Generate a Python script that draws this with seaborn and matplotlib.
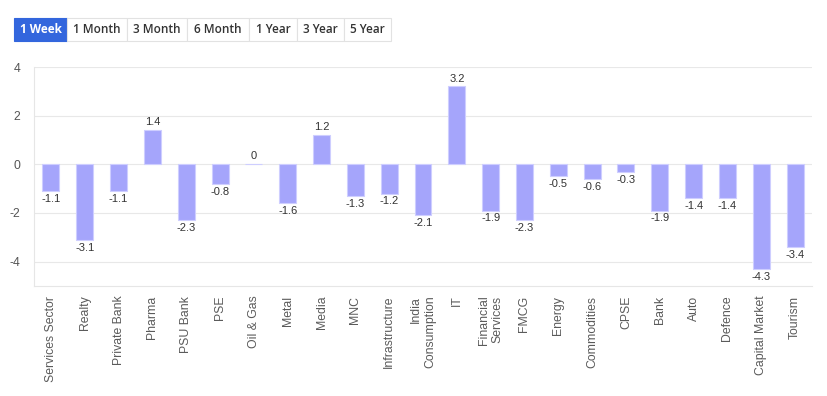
import pandas as pd
import seaborn as sns
import matplotlib.pyplot as plt
from matplotlib.patches import Rectangle

# Sector returns for the selected period
sectors = ['Services Sector', 'Realty', 'Private Bank', 'Pharma', 'PSU Bank', 'PSE',
           'Oil & Gas', 'Metal', 'Media', 'MNC', 'Infrastructure', 'India\nConsumption',
           'IT', 'Financial\nServices', 'FMCG', 'Energy', 'Commodities', 'CPSE', 'Bank',
           'Auto', 'Defence', 'Capital Market', 'Tourism']
returns = [-1.1, -3.1, -1.1, 1.4, -2.3, -0.8, 0, -1.6, 1.2, -1.3, -1.2, -2.1,
           3.2, -1.9, -2.3, -0.5, -0.6, -0.3, -1.9, -1.4, -1.4, -4.3, -3.4]
periods = ['1 Week', '1 Month', '3 Month', '6 Month', '1 Year', '3 Year', '5 Year']
y_ticks = [4, 2, 0, -2, -4]

df = pd.DataFrame({'sector': sectors, 'ret': returns})

sns.set_theme(style='white')
plt.rcParams['font.family'] = ['Liberation Sans', 'DejaVu Sans']

fig = plt.figure(figsize=(8.27, 3.96), dpi=100)
ax = fig.add_axes([34 / 827, 1 - 286 / 396, (812 - 34) / 827, (286 - 67) / 396])

bar_color = '#a5a5fb'
sns.barplot(data=df, x='sector', y='ret', color=bar_color, saturation=1,
            width=0.5, edgecolor='#ceceff', linewidth=0.8, ax=ax, zorder=3)

for i, v in enumerate(returns):
    if v >= 0:
        ax.text(i, v + 0.12, f'{v:g}', ha='center', va='bottom', fontsize=8, color='#333333')
    else:
        ax.text(i, v - 0.12, f'{v:g}', ha='center', va='top', fontsize=8, color='#333333')

ax.set_ylim(-5, 4)
ax.set_xlim(-0.5, len(sectors) - 0.5)
ax.set_yticks(y_ticks)
ax.set_yticklabels([str(t) for t in y_ticks], fontsize=8.8, color='#555555')
ax.set_xticks(range(len(sectors)))
ax.set_xticklabels(sectors, rotation=90, fontsize=8.8, color='#5a5a5a',
                   ha='center', va='top', multialignment='right')
ax.set_xlabel('')
ax.set_ylabel('')
ax.grid(axis='y', color='#e8e8e8', linewidth=0.8, zorder=0)
for s in ['top', 'right']:
    ax.spines[s].set_visible(False)
for s in ['left', 'bottom']:
    ax.spines[s].set_color('#e6e6e6')
    ax.spines[s].set_linewidth(0.8)
ax.tick_params(axis='x', length=5, color='#e6e6e6', pad=2)
ax.tick_params(axis='y', length=4, color='#e6e6e6', pad=6)

# Period selector buttons
edges = [14, 67, 127, 187, 249, 297, 344, 391]
y0, y1 = 18, 41
for k, label in enumerate(periods):
    x0, x1 = edges[k], edges[k + 1]
    active = k == 0
    fig.patches.append(Rectangle((x0 / 827, 1 - y1 / 396), (x1 - x0) / 827, (y1 - y0) / 396,
                                 transform=fig.transFigure,
                                 facecolor='#3366dd' if active else 'white',
                                 edgecolor='#3366dd' if active else '#e2e2e2',
                                 linewidth=0.8))
    fig.text((x0 + x1) / 2 / 827, 1 - (y0 + y1) / 2 / 396, label,
             ha='center', va='center', fontsize=8.5,
             fontweight='bold' if active else 'semibold',
             color='white' if active else '#333333', family=['Open Sans', 'DejaVu Sans'])

fig.savefig('out.png', dpi=100)
